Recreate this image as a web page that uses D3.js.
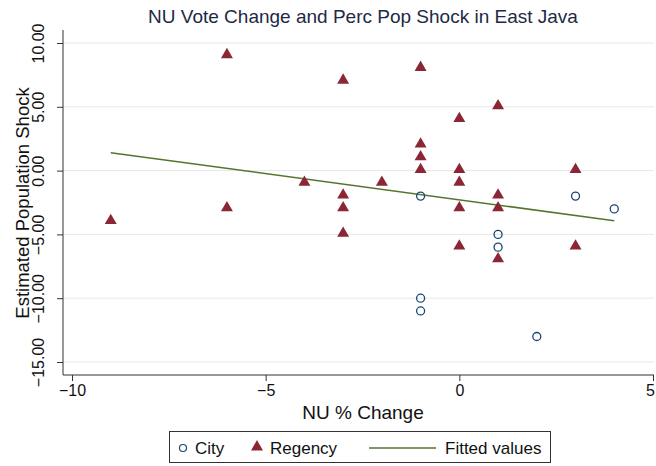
<!DOCTYPE html>
<html>
<head>
<meta charset="utf-8">
<script src="https://cdn.jsdelivr.net/npm/d3@7"></script>
<style>
  html, body { margin: 0; padding: 0; background: #fff; }
  svg { display: block; font-family: "Liberation Sans", Arial, Helvetica, sans-serif; }
</style>
</head>
<body>
<svg id="chart" width="656" height="466"></svg>
<script>
// NU vote change (x) vs estimated population shock (y), East Java districts
const cityX      = [-1, 1, 1, 3, 4, -1, -1, 2];
const cityY      = [-2, -5, -6, -2, -3, -10, -11, -13];
const regencyX   = [-9, -6, -6, -4, -3, -3, -3, -3, -2, -1, -1, -1, -1, 0, 0, 0, 0, 0, 1, 1, 1, 1, 3, 3];
const regencyY   = [-4, 9, -3, -1, 7, -2, -3, -5, -1, 8, 2, 1, 0, 4, 0, -1, -3, -6, 5, -2, -3, -7, 0, -6];
const xTicks     = [-10, -5, 0, 5];
const yTicks     = [10, 5, 0, -5, -10, -15];
const legendText = ["City", "Regency", "Fitted values"];
const titleText  = "NU Vote Change and Perc Pop Shock in East Java";

const colCity = "#1a476f", colReg = "#8b2635", colFit = "#55752f";

const svg = d3.select("#chart");
const m = { left: 63, right: 2, top: 30, bottom: 91 };
const W = 656, H = 466;

const x = d3.scaleLinear().domain([-10, 5]).range([72, 653]);
const y = d3.scaleLinear().domain([-15, 10]).range([362, 43]);

const cities    = cityX.map((v, i) => ({ x: v, y: cityY[i] }));
const regencies = regencyX.map((v, i) => ({ x: v, y: regencyY[i] }));

// least-squares fit over all districts
const all = cities.concat(regencies);
const mx = d3.mean(all, d => d.x), my = d3.mean(all, d => d.y);
const sxy = d3.sum(all, d => (d.x - mx) * (d.y - my));
const sxx = d3.sum(all, d => (d.x - mx) ** 2);
const slope = sxy / sxx, icpt = my - slope * mx;
const [xmin, xmax] = d3.extent(all, d => d.x);
const fit = [xmin, xmax].map(v => ({ x: v, y: icpt + slope * v }));

// horizontal grid
svg.append("g").selectAll("line").data(yTicks).join("line")
  .attr("x1", m.left).attr("x2", W - m.right)
  .attr("y1", d => y(d)).attr("y2", d => y(d))
  .attr("stroke", "#e8e8e8").attr("stroke-width", 1);

// axes
const yAxis = svg.append("g").attr("transform", `translate(${m.left},0)`)
  .call(d3.axisLeft(y).tickValues(yTicks).tickSize(6).tickPadding(4).tickFormat(d3.format(".2f")));
yAxis.select(".domain").attr("d", `M0,${m.top}V${H - m.bottom}`).attr("stroke", "#333");
yAxis.selectAll(".tick line").attr("stroke", "#333");
yAxis.selectAll(".tick text")
  .attr("transform", "rotate(-90)")
  .attr("x", 0).attr("y", -19).attr("dy", "0")
  .attr("text-anchor", "middle")
  .attr("font-size", 16).attr("fill", "#111");

const xAxis = svg.append("g").attr("transform", `translate(0,${H - m.bottom})`)
  .call(d3.axisBottom(x).tickValues(xTicks).tickSize(6).tickPadding(4).tickFormat(d3.format("d")));
xAxis.select(".domain").attr("d", `M${m.left},0H${W - m.right}`).attr("stroke", "#333");
xAxis.selectAll(".tick line").attr("stroke", "#333");
xAxis.selectAll(".tick text").attr("font-size", 16).attr("fill", "#111")
  .attr("dx", d => d === 5 ? -3 : 0);

// fitted line
svg.append("path").datum(fit)
  .attr("d", d3.line().x(d => x(d.x)).y(d => y(d.y)))
  .attr("fill", "none").attr("stroke", colFit).attr("stroke-width", 1.5);

// markers
const tri = d3.symbol().type(d3.symbolTriangle).size(62);
svg.append("g").selectAll("path").data(regencies).join("path")
  .attr("d", tri)
  .attr("transform", d => `translate(${x(d.x)},${y(d.y) - 1})`)
  .attr("fill", colReg);

svg.append("g").selectAll("circle").data(cities).join("circle")
  .attr("cx", d => x(d.x)).attr("cy", d => y(d.y)).attr("r", 4)
  .attr("fill", "none").attr("stroke", colCity).attr("stroke-width", 1.3);

// titles
svg.append("text").attr("x", 363).attr("y", 23).attr("text-anchor", "middle")
  .attr("font-size", 19).attr("fill", "#1e2a44").text(titleText);
svg.append("text").attr("x", 363).attr("y", 419).attr("text-anchor", "middle")
  .attr("font-size", 19).attr("fill", "#111").text("NU % Change");
svg.append("text").attr("transform", "translate(29,203) rotate(-90)").attr("text-anchor", "middle")
  .attr("font-size", 18.5).attr("fill", "#111").text("Estimated Population Shock");

// legend
const lg = svg.append("g");
lg.append("rect").attr("x", 169.5).attr("y", 431.5).attr("width", 381).attr("height", 31)
  .attr("fill", "#fff").attr("stroke", "#333");
lg.append("circle").attr("cx", 183).attr("cy", 448).attr("r", 3.5)
  .attr("fill", "none").attr("stroke", colCity).attr("stroke-width", 1.2);
lg.append("text").attr("x", 195).attr("y", 454).attr("font-size", 17).attr("fill", "#111").text(legendText[0]);
lg.append("path").attr("d", tri).attr("transform", "translate(257,447)").attr("fill", colReg);
lg.append("text").attr("x", 270).attr("y", 454).attr("font-size", 17).attr("fill", "#111").text(legendText[1]);
lg.append("line").attr("x1", 369).attr("x2", 436).attr("y1", 448).attr("y2", 448)
  .attr("stroke", colFit).attr("stroke-width", 1.5);
lg.append("text").attr("x", 445).attr("y", 454).attr("font-size", 17).attr("fill", "#111").text(legendText[2]);
</script>
</body>
</html>
